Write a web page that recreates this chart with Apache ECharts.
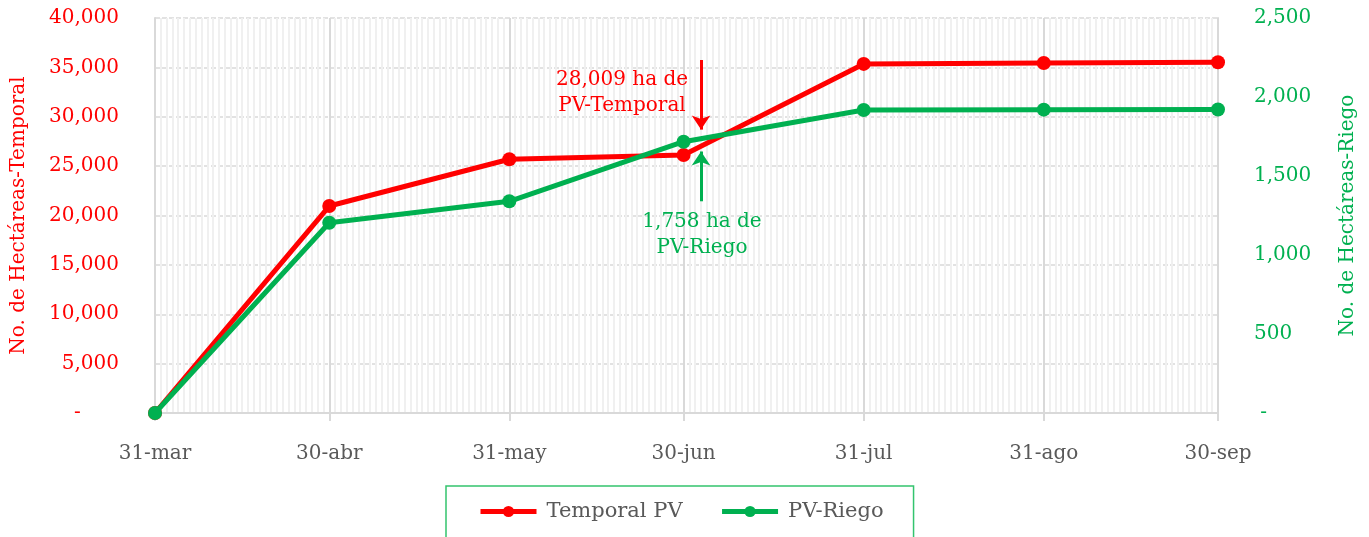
<!DOCTYPE html>
<html>
<head>
    <meta charset="UTF-8">
    <title>Hectáreas PV</title>
    <script src="https://cdn.jsdelivr.net/npm/echarts@6/dist/echarts.min.js"></script>
    <style>
        html, body { margin: 0; padding: 0; background: #fff; }
        #chart { width: 1369px; height: 537px; }
    </style>
</head>
<body>
<div id="chart"></div>
<script>
// etiquetas de fin de mes y valores
const tickLabels = ['31-mar', '30-abr', '31-may', '30-jun', '31-jul', '31-ago', '30-sep'];
const temporal = [0, 20960, 25700, 26130, 35350, 35450, 35520];
const riego = [0, 1204, 1340, 1717, 1918, 1920, 1921];
const leftTicks = [0, 40000, 5000];
const rightTicks = [0, 2500, 500];
const monthNames = ['ene', 'feb', 'mar', 'abr', 'may', 'jun', 'jul', 'ago', 'sep', 'oct', 'nov', 'dic'];

// un dia por categoria, del 31-mar al 30-sep
const days = [];
for (let d = new Date(2024, 2, 31); d <= new Date(2024, 8, 30); d.setDate(d.getDate() + 1)) {
    days.push(d.getDate() + '-' + monthNames[d.getMonth()]);
}
const isMonthEnd = (i, v) => tickLabels.indexOf(v) >= 0;

const RED = '#ff0000';
const GREEN = '#00b050';
const GREY = '#595959';
const FONT = 'DejaVu Serif';

const chart = echarts.init(document.getElementById('chart'));
const option = {
    animation: false,
    textStyle: { fontFamily: FONT },
    grid: { left: 155, right: 151, top: 18, bottom: 124 },
    legend: {
        left: 446,
        top: 486,
        padding: [15, 30, 20, 32],
        borderColor: '#33c46e',
        borderWidth: 1.5,
        itemWidth: 56,
        itemHeight: 14,
        itemGap: 37,
        lineStyle: { width: 5 },
        textStyle: { color: GREY, fontSize: 21, fontFamily: FONT, padding: [0, 0, 0, 5] },
        data: ['Temporal PV', 'PV-Riego']
    },
    xAxis: [{
        type: 'category',
        data: days,
        boundaryGap: false,
        axisLine: { lineStyle: { color: '#d9d9d9', width: 2 } },
        axisTick: { interval: isMonthEnd, length: 8, lineStyle: { color: '#d9d9d9', width: 2 } },
        axisLabel: { interval: isMonthEnd, color: GREY, fontSize: 20, margin: 31, fontFamily: FONT },
        splitLine: { show: true, interval: 0, lineStyle: { color: '#f0f0f0', width: 2 } }
    }, {
        type: 'category',
        data: days,
        boundaryGap: false,
        position: 'bottom',
        axisLine: { show: false },
        axisTick: { show: false },
        axisLabel: { show: false },
        splitLine: { show: true, interval: isMonthEnd, lineStyle: { color: '#d9d9d9', width: 2 } }
    }],
    yAxis: [{
        type: 'value',
        min: leftTicks[0], max: leftTicks[1], interval: leftTicks[2],
        name: 'No. de Hectáreas-Temporal',
        nameLocation: 'middle',
        nameGap: 126,
        nameTextStyle: { color: RED, fontSize: 20, fontFamily: FONT },
        axisLine: { show: true, lineStyle: { color: '#d9d9d9', width: 2 } },
        axisTick: { show: false },
        axisLabel: {
            color: RED, fontSize: 20, margin: 36, fontFamily: FONT,
            formatter: v => v === 0 ? '-      ' : v.toLocaleString('en-US')
        },
        splitLine: { lineStyle: { color: '#d9d9d9', width: 1.5, type: [5, 2] } }
    }, {
        type: 'value',
        min: rightTicks[0], max: rightTicks[1], interval: rightTicks[2],
        name: 'No. de Hectáreas-Riego',
        nameLocation: 'middle',
        nameGap: 120,
        nameTextStyle: { color: GREEN, fontSize: 20, fontFamily: FONT },
        axisLine: { show: true, lineStyle: { color: '#d9d9d9', width: 2 } },
        axisTick: { show: false },
        axisLabel: {
            color: GREEN, fontSize: 20, margin: 36, fontFamily: FONT,
            formatter: v => v === 0 ? ' -' : v.toLocaleString('en-US')
        },
        splitLine: { show: false }
    }],
    series: [{
        name: 'Temporal PV',
        type: 'line',
        yAxisIndex: 0,
        data: tickLabels.map((c, i) => [c, temporal[i]]),
        symbol: 'circle',
        symbolSize: 14,
        z: 2,
        itemStyle: { color: RED },
        lineStyle: { color: RED, width: 5 },
        markLine: {
            silent: true,
            symbol: ['none', 'arrow'],
            symbolSize: 14,
            lineStyle: { color: RED, width: 3, type: 'solid' },
            label: { show: false },
            data: [[{ coord: ['3-jul', 35750] }, { coord: ['3-jul', 28700] }]]
        }
    }, {
        name: 'PV-Riego',
        type: 'line',
        yAxisIndex: 1,
        data: tickLabels.map((c, i) => [c, riego[i]]),
        symbol: 'circle',
        symbolSize: 14,
        z: 3,
        itemStyle: { color: GREEN },
        lineStyle: { color: GREEN, width: 5 },
        markLine: {
            silent: true,
            symbol: ['none', 'arrow'],
            symbolSize: 14,
            lineStyle: { color: GREEN, width: 3, type: 'solid' },
            label: { show: false },
            data: [[{ coord: ['3-jul', 1340] }, { coord: ['3-jul', 1655] }]]
        }
    }],
    graphic: [{
        type: 'text',
        x: 622, y: 67,
        z: 10,
        style: {
            text: '28,009 ha de\nPV-Temporal',
            fill: RED, fontSize: 20, fontFamily: FONT,
            align: 'center', lineHeight: 26
        }
    }, {
        type: 'text',
        x: 702, y: 209,
        z: 10,
        style: {
            text: '1,758 ha de\nPV-Riego',
            fill: GREEN, fontSize: 20, fontFamily: FONT,
            align: 'center', lineHeight: 26
        }
    }]
};
chart.setOption(option);
</script>
</body>
</html>
